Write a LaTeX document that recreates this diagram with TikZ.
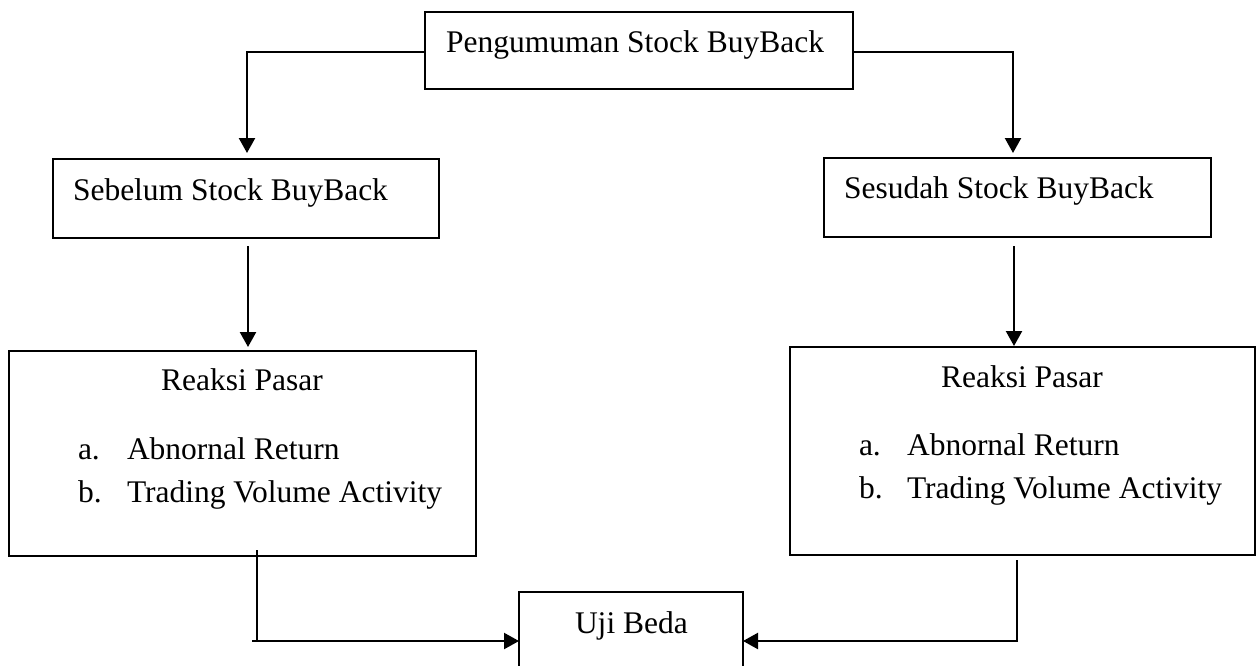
\documentclass[tikz,border=0pt]{standalone}
\usepackage{fontspec}
\setmainfont{Liberation Serif}
\usetikzlibrary{arrows.meta}
\begin{document}
\begin{tikzpicture}[x=1pt,y=-1pt,
  box/.style={draw, line width=1.9pt, inner sep=0pt, outer sep=0pt},
  txt/.style={inner sep=0pt, outer sep=0pt, anchor=base west, font=\fontsize{31.5pt}{38pt}\selectfont},
  arr/.style={line width=2.3pt, -{Triangle[length=15pt,width=16pt]}},
  conn/.style={line width=2pt}]
\useasboundingbox (0,0) rectangle (1256,665);
% boxes
\node[box, minimum width=428pt, minimum height=77pt] (T) at (639,50.5) {};
\node[box, minimum width=386pt, minimum height=79pt] (S1) at (246,198.5) {};
\node[box, minimum width=387pt, minimum height=79pt] (S2) at (1017.5,197.5) {};
\node[box, minimum width=467pt, minimum height=205pt] (R1) at (242.5,453.5) {};
\node[box, minimum width=465pt, minimum height=208pt] (R2) at (1022.5,451) {};
\node[box, minimum width=224pt, minimum height=98pt] (U) at (631,641) {};
% texts
\node[txt] (tT) at (446,52) {Pengumuman Stock BuyBack};
\node[txt] (tS1) at (73,200) {Sebelum Stock BuyBack};
\node[txt] (tS2) at (844,198) {Sesudah Stock BuyBack};
\node[txt, anchor=base] (tR1) at (242,390) {Reaksi Pasar};
\node[txt] (tR1a) at (78,459) {a.};
\node[txt] (tR1at) at (127,459) {Abnornal Return};
\node[txt] (tR1b) at (78,502) {b.};
\node[txt] (tR1bt) at (127,502) {Trading Volume Activity};
\node[txt, anchor=base] (tR2) at (1022,387) {Reaksi Pasar};
\node[txt] (tR2a) at (859,455) {a.};
\node[txt] (tR2at) at (907,455) {Abnornal Return};
\node[txt] (tR2b) at (859,498) {b.};
\node[txt] (tR2bt) at (907,498) {Trading Volume Activity};
\node[txt] (tU) at (575,633) {Uji Beda};
% connectors
\draw[arr] ([yshift=-1.5pt]T.west) -| ([xshift=1pt,yshift=6pt]S1.north);
\draw[arr] ([yshift=-1.5pt]T.east) -| ([xshift=-4.5pt,yshift=5pt]S2.north);
\draw[arr] ([xshift=2pt,yshift=-8pt]S1.south) -- ([xshift=5.5pt,yshift=4pt]R1.north);
\draw[arr] ([xshift=-3.5pt,yshift=-9pt]S2.south) -- ([xshift=-8.5pt,yshift=1pt]R2.north);
\coordinate (c1) at (257,641);
\coordinate (c2) at (1017,641);
\draw[conn] ([xshift=14.5pt,yshift=6pt]R1.south) -- (c1);
\draw[arr] ([xshift=-5pt]c1) -- (U.west);
\draw[conn] ([xshift=-5.5pt,yshift=-5pt]R2.south) -- (c2);
\draw[arr] ([xshift=1pt]c2) -- (U.east);
\end{tikzpicture}
\end{document}
